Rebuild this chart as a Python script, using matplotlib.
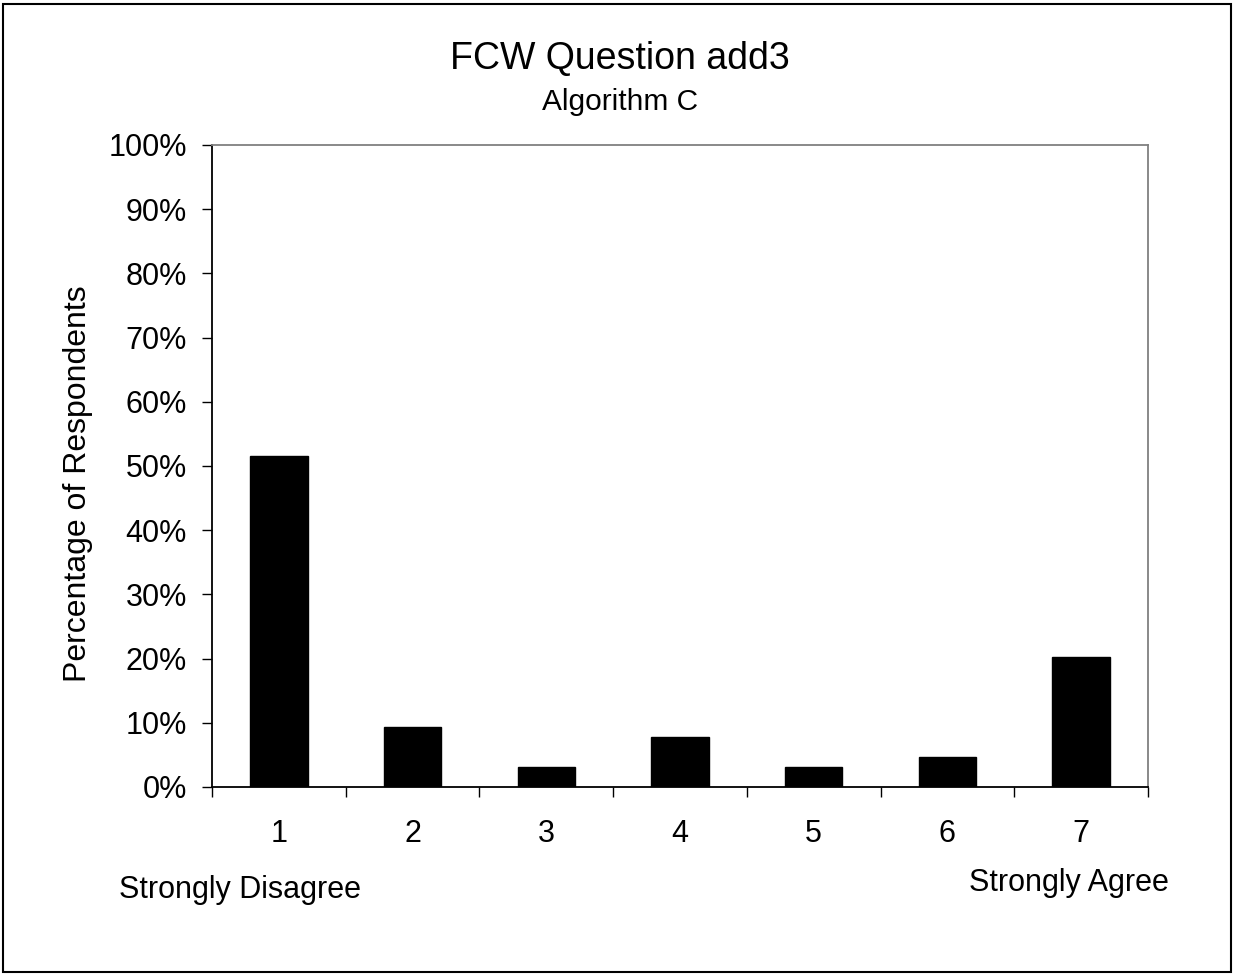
import matplotlib.pyplot as plt
from matplotlib.patches import Rectangle
import numpy as np

plt.rcParams['font.family'] = ['Liberation Sans', 'DejaVu Sans']

categories = ['1', '2', '3', '4', '5', '6', '7']
percent = [51.6, 9.4, 3.1, 7.8, 3.1, 4.7, 20.3]

fig = plt.figure(figsize=(12.34, 9.76), dpi=100)
ax = fig.add_axes([212 / 1234, 1 - 787 / 976, (1148 - 212) / 1234, (787 - 145) / 976])

x = np.arange(len(categories))
ax.bar(x, percent, width=0.43, color='black', edgecolor='black')

ax.set_xlim(-0.5, len(categories) - 0.5)
ax.set_ylim(0, 100)
ax.set_yticks(np.arange(0, 101, 10))
ax.set_yticklabels([f'{v}%' for v in range(0, 101, 10)], fontsize=22)
ax.set_xticks(x)
ax.set_xticklabels(categories, fontsize=22)
ax.set_xticks(np.arange(-0.5, len(categories)), minor=True)
ax.tick_params(axis='x', which='major', length=0, pad=23)
ax.tick_params(axis='x', which='minor', length=7, direction='out', width=1)
ax.tick_params(axis='y', length=7, direction='out', width=1, pad=11)

ax.spines['left'].set_color('black')
ax.spines['bottom'].set_color('black')
ax.spines['top'].set_color('#808080')
ax.spines['right'].set_color('#808080')
for s in ax.spines.values():
    s.set_linewidth(1.3)

ax.set_ylabel('Percentage of Respondents', fontsize=23, va='center')
ax.yaxis.set_label_coords((78 - 212) / 936, (787 - 484) / 642)

fig.text(620 / 1234, 1 - 69 / 976, 'FCW Question add3', ha='center', va='baseline', fontsize=27)
fig.text(620 / 1234, 1 - 110 / 976, 'Algorithm C', ha='center', va='baseline', fontsize=21.5)
fig.text(240 / 1234, 1 - 898 / 976, 'Strongly Disagree', ha='center', va='baseline', fontsize=22)
fig.text(1069 / 1234, 1 - 891 / 976, 'Strongly Agree', ha='center', va='baseline', fontsize=22)

fig.patches.append(Rectangle((3 / 1234, 4 / 976), 1228 / 1234, 968 / 976,
                             transform=fig.transFigure, fill=False,
                             edgecolor='black', linewidth=1.5))

fig.savefig('out.png', dpi=100)
